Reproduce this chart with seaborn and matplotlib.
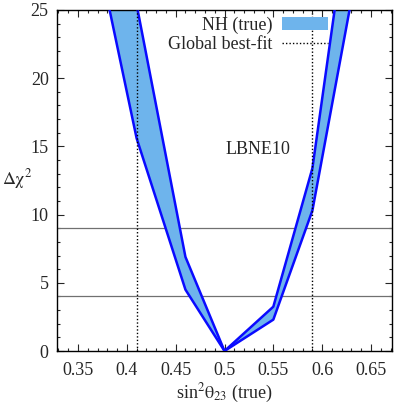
import matplotlib.pyplot as plt
from matplotlib.patches import Patch
from matplotlib.lines import Line2D
from matplotlib.ticker import MultipleLocator
import seaborn as sns
import pandas as pd

# ===================== DATOS =====================

sin2_true = [0.35, 0.41, 0.46, 0.50, 0.55, 0.59, 0.65]
chi2_low = [36.0, 15.6, 4.5, 0.0, 2.3, 10.3, 33.5]
chi2_high = [48.0, 25.4, 6.9, 0.0, 3.25, 13.4, 44.0]

best_fit = [0.41, 0.59]
cl_levels = [4, 9]

band_color = "#6eb4ec"
edge_color = "#0a0aff"

df = pd.DataFrame({"x": sin2_true, "low": chi2_low, "high": chi2_high})

# ===================== ESTILO =====================

sns.set_style("ticks")
plt.rcParams["font.family"] = "serif"
plt.rcParams["font.serif"] = ["Liberation Serif", "DejaVu Serif"]
plt.rcParams["mathtext.fontset"] = "stix"
plt.rcParams["font.size"] = 13

fig = plt.figure(figsize=(4.07, 4.09), dpi=100)
ax = fig.add_axes([57 / 407, 1 - 351 / 409, 335 / 407, 341 / 409])

# ===================== BANDA =====================

ax.fill_between(df["x"], df["low"], df["high"], color=band_color, lw=0, zorder=2)
sns.lineplot(data=df, x="x", y="low", color=edge_color, lw=1.8, ax=ax, zorder=3)
sns.lineplot(data=df, x="x", y="high", color=edge_color, lw=1.8, ax=ax, zorder=3)

for lvl in cl_levels:
    ax.axhline(lvl, color="#707070", lw=0.9, zorder=1)
for bf in best_fit:
    ax.axvline(bf, color="black", lw=1.0, ls=(0, (1, 1.5)), zorder=4)

ax.text(0.534, 14.8, "LBNE10", ha="center", va="center", fontsize=13)

# ===================== EJES =====================

ax.set_xlim(0.3285, 0.6715)
ax.set_ylim(0, 25)
ax.xaxis.set_minor_locator(MultipleLocator(0.01))
ax.yaxis.set_major_locator(MultipleLocator(5))
ax.yaxis.set_minor_locator(MultipleLocator(1))
ax.set_xticks([0.35, 0.40, 0.45, 0.50, 0.55, 0.60, 0.65])
ax.set_xticklabels(["0.35", "0.4", "0.45", "0.5", "0.55", "0.6", "0.65"])
ax.tick_params(which="both", direction="in", top=True, right=True, labelsize=13)
ax.tick_params(axis="x", pad=8)
ax.tick_params(axis="y", pad=6)
ax.tick_params(which="major", length=5, width=0.8)
ax.tick_params(which="minor", length=2.5, width=0.8)
for sp in ax.spines.values():
    sp.set_linewidth(1.0)
    sp.set_color("black")

ax.set_xlabel(r"sin$^2\mathrm{\theta}_{23}$ (true)", fontsize=13, labelpad=2)
ax.set_ylabel(r"$\Delta\mathrm{\chi}^2$", fontsize=13, rotation=0)
ax.yaxis.set_label_coords(-0.12, 0.47)

handles = [
    Patch(facecolor=band_color, edgecolor="none", label="NH (true)"),
    Line2D([], [], color="black", lw=1.0, ls=(0, (1, 1.5)), label="Global best-fit"),
]
ax.legend(
    handles=handles,
    loc="upper right",
    bbox_to_anchor=(0.85, 1.02),
    frameon=False,
    markerfirst=False,
    handlelength=2.55,
    handletextpad=0.55,
    borderpad=0.25,
    labelspacing=0.1,
    fontsize=13,
)

fig.savefig("out.png", dpi=100)
